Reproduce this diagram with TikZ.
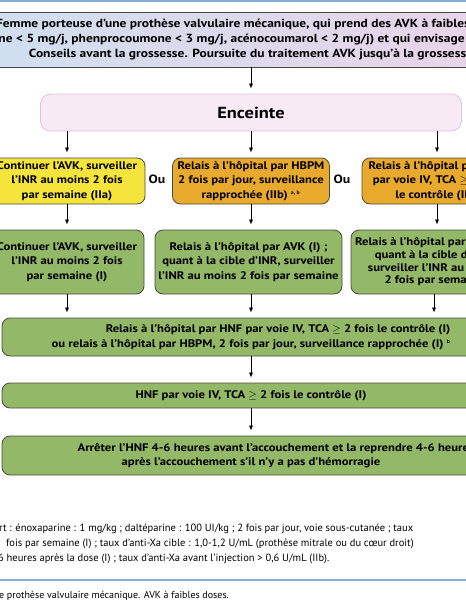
\documentclass[tikz,border=0pt]{standalone}
\usepackage{fontspec}
\setmainfont{PT Sans}[FakeStretch=1.15]
\newfontfamily\notefont{PT Sans}
\usetikzlibrary{arrows.meta}

\definecolor{bleuligne}{HTML}{86AED8}
\definecolor{bleuclair}{HTML}{CDE0F0}
\definecolor{roseclair}{HTML}{EDD2E8}
\definecolor{rosefond}{HTML}{F7EAF4}
\definecolor{rosebord}{HTML}{E3C2D9}
\definecolor{jaunebox}{HTML}{F5E43C}
\definecolor{orangebox}{HTML}{E9A92D}
\definecolor{vertbox}{HTML}{93B867}
\definecolor{bordbox}{HTML}{4A4A40}

\tikzset{
  boite/.style={draw=bordbox, line width=0.8pt, rounded corners=8pt, align=center,
    font=\bfseries\fontsize{11}{14.5}\selectfont, inner sep=2pt},
  jaune/.style={boite, fill=jaunebox, minimum height=46pt},
  orange/.style={boite, fill=orangebox, minimum height=46pt},
  vert/.style={boite, fill=vertbox},
  large/.style={vert, minimum width=498pt},
  ou/.style={font=\bfseries\fontsize{12}{14}\selectfont},
  note/.style={font=\notefont\fontsize{10.5}{13}\selectfont, anchor=base west, inner sep=0pt},
  fleche/.style={-{Latex[length=5pt,width=4pt]}, line width=0.6pt, shorten >=5pt},
}

\begin{document}
\begin{tikzpicture}[x=1pt, y=-1pt]
    \useasboundingbox (0,0) rectangle (466,600);
    \clip (0,0) rectangle (466,600);

    % Lines
    \draw[bleuligne, line width=2pt] (0,1) -- (466,1);
    \draw[bleuligne, line width=1.2pt] (0,580) -- (466,580);

    % Draw nodes
    \node[draw=bordbox, line width=0.8pt, left color=bleuclair, right color=roseclair,
      minimum width=500pt, minimum height=55pt, align=center,
      font=\bfseries\fontsize{11.7}{15}\selectfont] (grossesse) at (251,39.5)
      {Femme porteuse d’une prothèse valvulaire mécanique, qui prend des AVK à faibles doses\\
       (warfarine < 5 mg/j, phenprocoumone < 3 mg/j, acénocoumarol < 2 mg/j) et qui envisage une grossesse\\
       Conseils avant la grossesse. Poursuite du traitement AVK jusqu’à la grossesse};
    \node[draw=rosebord, fill=rosefond, line width=0.8pt, rounded corners=10pt,
      minimum width=421pt, minimum height=37pt,
      font=\bfseries\fontsize{16}{18}\selectfont] (enceinte) at (251,112.5) {Enceinte};

    \node[jaune, minimum width=156pt] (avk1) at (67,181)
      {Continuer l’AVK, surveiller\\ l’INR au moins 2 fois\\ par semaine (IIa)};
    \node[ou] (ou1) at (157,179) {Ou};
    \node[orange, minimum width=157pt] (hbpm1) at (251,181)
      {Relais à l’hôpital par HBPM\\ 2 fois par jour, surveillance\\ rapprochée (IIb) \textsuperscript{\tiny a, b}};
    \node[ou] (ou2) at (342,179) {Ou};
    \node[orange, minimum width=150pt] (hnf1) at (437,181)
      {Relais à l’hôpital par HNF\\ par voie IV, TCA $\geq$ 2 fois\\ le contrôle (IIb)};

    \node[vert, minimum width=154pt, minimum height=64pt] (avk2) at (67,262)
      {Continuer l’AVK, surveiller\\ l’INR au moins 2 fois\\ par semaine (I)};
    \node[vert, minimum width=187pt, minimum height=64pt] (avk3) at (248.5,262)
      {Relais à l’hôpital par AVK (I) ;\\ quant à la cible d’INR, surveiller\\ l’INR au moins 2 fois par semaine};
    \node[vert, minimum width=166pt, minimum height=64pt,
      font=\bfseries\fontsize{11}{12.7}\selectfont] (avk4) at (434,262)
      {Relais à l’hôpital par AVK (I) ;\\ quant à la cible d’INR,\\ surveiller l’INR au moins\\ 2 fois par semaine};

    \node[large, minimum height=38pt, align=right] (relais) at (251,337)
      {Relais à l’hôpital par HNF par voie IV, TCA $\geq$ 2 fois le contrôle (I)\\
       ou relais à l’hôpital par HBPM, 2 fois par jour, surveillance rapprochée (I) \textsuperscript{\tiny b}};
    \node[large, minimum height=25pt] (hnf) at (251,395.5)
      {HNF par voie IV, TCA $\geq$ 2 fois le contrôle (I)};
    \node[large, minimum height=39pt] (arret) at (251,455.5)
      {\hspace*{50pt}Arrêter l’HNF 4-6 heures avant l’accouchement et la reprendre 4-6 heures\\
       après l’accouchement s’il n’y a pas d’hémorragie};

    % Draw connections
    \draw[fleche] (grossesse) -- (enceinte);
    \draw[fleche] (enceinte.south -| avk1.north) -- (avk1);
    \draw[fleche] (enceinte.south -| hbpm1.north) -- (hbpm1);
    \draw[fleche] (enceinte.south -| hnf1.north) -- (hnf1);
    \draw[fleche] (avk1) -- (avk1 |- avk2.north);
    \draw[fleche] (hbpm1) -- (hbpm1 |- avk3.north);
    \draw[fleche] (hnf1) -- (hnf1 |- avk4.north);
    \draw[fleche] (avk2) -- (avk2 |- relais.north);
    \draw[fleche] (avk3.south -| relais.north) -- (relais);
    \draw[fleche] (avk4) -- (avk4 |- relais.north);
    \draw[fleche] (relais) -- (hnf);
    \draw[fleche] (hnf) -- (arret);

    % Notes
    \node[note] (note1) at (-1,531)
      {rt : énoxaparine : 1 mg/kg ; daltéparine : 100 UI/kg ; 2 fois par jour, voie sous-cutanée ; taux};
    \node[note] (note2) at (6,546)
      {fois par semaine (I) ; taux d’anti-Xa cible : 1,0-1,2 U/mL (prothèse mitrale ou du cœur droit)};
    \node[note] (note3) at (-2,561)
      {6 heures après la dose (I) ; taux d’anti-Xa avant l’injection > 0,6 U/mL (IIb).};
    \node[note, font=\notefont\fontsize{10}{12}\selectfont] (note4) at (-1,598)
      {e prothèse valvulaire mécanique. AVK à faibles doses.};
\end{tikzpicture}
\end{document}
